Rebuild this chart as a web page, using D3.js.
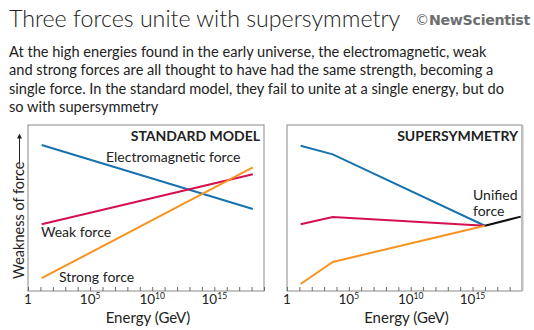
<!DOCTYPE html>
<html>
<head>
<meta charset="utf-8">
<script src="https://cdn.jsdelivr.net/npm/d3@7"></script>
<style>
  body { margin: 0; background: #fff; }
  svg { display: block; font-family: Lato, "Open Sans", sans-serif; }
</style>
</head>
<body>
<script>
// energies are stored as log10(GeV), weakness on an arbitrary 0-100 scale
const panels = ["STANDARD MODEL", "SUPERSYMMETRY"]
const tickLabels = [[0, "1"], [5, "5"], [10, "10"], [15, "15"]]

const emStandard = [[1.1, 88], [18.1, 49.4]]
const weakStandard = [[1.1, 40.2], [18.1, 70.3]]
const strongStandard = [[1.1, 7.7], [18.1, 74.5]]

const emSusy = [[1.1, 87.5], [3.7, 82.3], [16, 39.3]]
const weakSusy = [[1.1, 40.2], [3.7, 44.6], [16, 39.3]]
const strongSusy = [[1.1, 4.2], [3.7, 17.5], [16, 39.3]]
const unifiedSusy = [[16, 39.3], [18.9, 44.8]]

const intro = [
    "At the high energies found in the early universe, the electromagnetic, weak",
    "and strong forces are all thought to have had the same strength, becoming a",
    "single force. In the standard model, they fail to unite at a single energy, but do",
    "so with supersymmetry"
]

const colors = { em: "#1673ad", weak: "#d5104f", strong: "#f7931e", unified: "#111" }

const width = 534
const height = 330
const ink = "#222"

const svg = d3.select("body")
    .append("svg")
    .attr("width", width)
    .attr("height", height)

// heading
svg.append("text")
    .attr("x", 9)
    .attr("y", 27)
    .attr("font-size", 23.2)
    .attr("font-weight", 300)
    .attr("fill", ink)
    .text("Three forces unite with supersymmetry")

const brand = svg.append("text")
    .attr("x", 530)
    .attr("y", 25)
    .attr("text-anchor", "end")
    .attr("font-family", "'DejaVu Sans', sans-serif")
    .attr("font-size", 14.2)
    .attr("font-weight", 700)
    .attr("letter-spacing", -0.3)
    .attr("fill", "#6d6e70")
brand.append("tspan").attr("font-weight", 400).text("©")
brand.append("tspan").text("NewScientist")

svg.append("g")
    .selectAll("text")
    .data(intro)
    .enter().append("text")
    .attr("x", 9)
    .attr("y", (_, i) => 57 + i * 18.3)
    .attr("font-size", 14.6)
    .attr("fill", ink)
    .text(_ => _)

// y label with arrow
svg.append("defs").append("marker")
    .attr("id", "head")
    .attr("viewBox", "0 0 10 10")
    .attr("refX", 5).attr("refY", 5)
    .attr("markerWidth", 5).attr("markerHeight", 6)
    .attr("orient", "auto")
    .append("path")
    .attr("d", "M0,0L10,5L0,10Z")
    .attr("fill", ink)

svg.append("text")
    .attr("transform", "translate(24,279) rotate(-90)")
    .attr("font-size", 14.5)
    .attr("fill", ink)
    .text("Weakness of force")

svg.append("line")
    .attr("x1", 19.5).attr("x2", 19.5)
    .attr("y1", 163).attr("y2", 136)
    .attr("stroke", ink)
    .attr("stroke-width", 1)
    .attr("marker-end", "url(#head)")

const plotTop = 125
const plotBottom = 291
const y = d3.scaleLinear().domain([0, 100]).range([plotBottom, plotTop])

function drawPanel (left, right, title, series, labels) {
    const x = d3.scaleLinear().domain([0, 19]).range([left, right])
    const g = svg.append("g")

    g.append("rect")
        .attr("x", left).attr("y", plotTop)
        .attr("width", right - left).attr("height", plotBottom - plotTop)
        .attr("fill", "none")
        .attr("stroke", "#8a8a8a")
        .attr("stroke-width", 1)

    const axis = g.append("g")
        .attr("transform", `translate(0,${plotBottom})`)
        .call(d3.axisBottom(x).tickValues(d3.range(0, 20)).tickSize(-4).tickFormat(""))
    axis.select(".domain").remove()
    axis.selectAll("line").attr("stroke", "#6b6b6b")

    const lab = g.append("g")
        .selectAll("text")
        .data(tickLabels)
        .enter().append("text")
        .attr("x", _ => x(_[0]))
        .attr("y", 304)
        .attr("text-anchor", "middle")
        .attr("font-size", 13.5)
        .attr("fill", ink)
    lab.append("tspan").text(_ => _[0] === 0 ? "1" : "10")
    lab.filter(_ => _[0] !== 0).append("tspan")
        .attr("dy", -5)
        .attr("font-size", 8.5)
        .text(_ => _[1])

    g.append("text")
        .attr("x", (left + right) / 2 + 2)
        .attr("y", 323)
        .attr("text-anchor", "middle")
        .attr("font-size", 15)
        .attr("fill", ink)
        .text("Energy (GeV)")

    g.append("text")
        .attr("x", right - 4)
        .attr("y", 141)
        .attr("text-anchor", "end")
        .attr("font-size", 14)
        .attr("font-weight", 700)
        .attr("fill", ink)
        .text(title)

    const line = d3.line().x(_ => x(_[0])).y(_ => y(_[1]))
    g.append("g")
        .selectAll("path")
        .data(series)
        .enter().append("path")
        .attr("d", _ => line(_.values))
        .attr("fill", "none")
        .attr("stroke", _ => _.color)
        .attr("stroke-width", 2)

    g.append("g")
        .selectAll("text")
        .data(labels)
        .enter().append("text")
        .attr("x", _ => _.x)
        .attr("y", _ => _.y)
        .attr("font-size", 14)
        .attr("fill", ink)
        .text(_ => _.text)
}

drawPanel(28, 264, panels[0], [
    { values: emStandard, color: colors.em },
    { values: weakStandard, color: colors.weak },
    { values: strongStandard, color: colors.strong }
], [
    { text: "Electromagnetic force", x: 106, y: 162 },
    { text: "Weak force", x: 41, y: 237 },
    { text: "Strong force", x: 59, y: 282 }
])

drawPanel(287, 522, panels[1], [
    { values: emSusy, color: colors.em },
    { values: weakSusy, color: colors.weak },
    { values: strongSusy, color: colors.strong },
    { values: unifiedSusy, color: colors.unified }
], [
    { text: "Unified", x: 473, y: 200 },
    { text: "force", x: 473, y: 216 }
])

// heavier right border on the second panel
svg.append("line")
    .attr("x1", 522.5).attr("x2", 522.5)
    .attr("y1", plotTop).attr("y2", plotBottom)
    .attr("stroke", "#bdbdbd")
    .attr("stroke-width", 2)
</script>
</body>
</html>
